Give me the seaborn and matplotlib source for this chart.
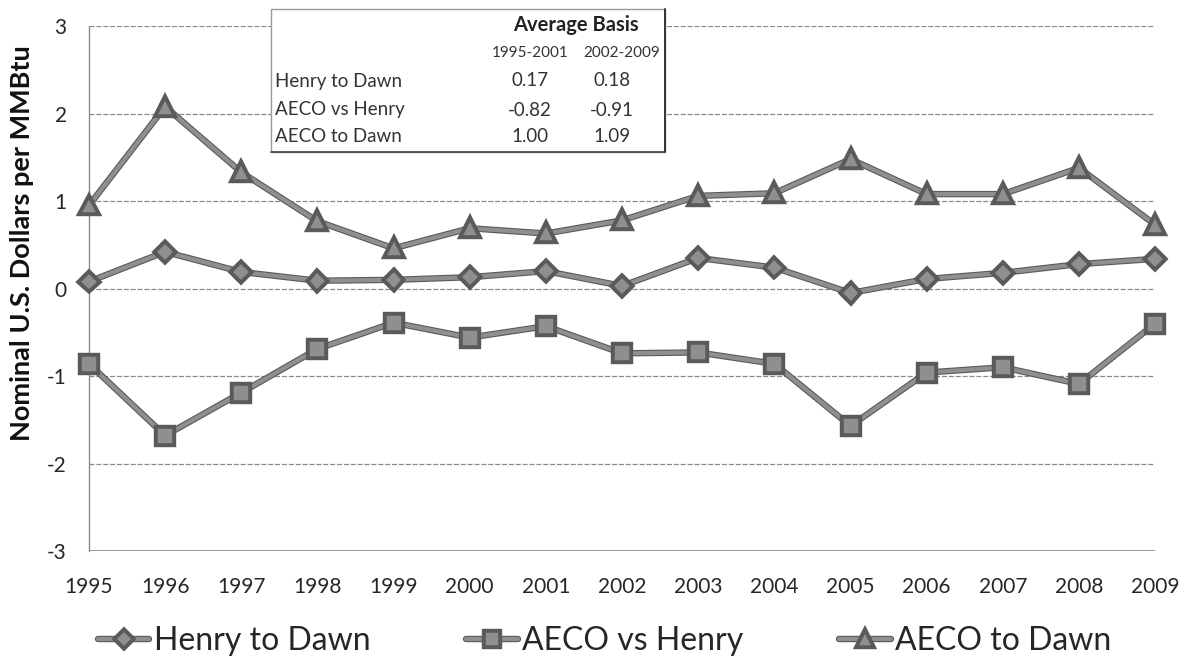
import matplotlib
matplotlib.use("Agg")
import matplotlib.pyplot as plt
import matplotlib.patheffects as pe
from matplotlib.patches import Rectangle
import numpy as np
import pandas as pd
import seaborn as sns

years = [1995, 1996, 1997, 1998, 1999, 2000, 2001, 2002,
         2003, 2004, 2005, 2006, 2007, 2008, 2009]
henry_to_dawn = [0.08, 0.42, 0.19, 0.09, 0.10, 0.13, 0.20, 0.03,
                 0.35, 0.24, -0.05, 0.11, 0.18, 0.28, 0.34]
aeco_vs_henry = [-0.86, -1.68, -1.19, -0.69, -0.39, -0.56, -0.43, -0.74,
                 -0.73, -0.86, -1.57, -0.96, -0.90, -1.09, -0.40]
aeco_to_dawn = [0.95, 2.08, 1.33, 0.77, 0.46, 0.69, 0.63, 0.78,
                1.06, 1.09, 1.48, 1.08, 1.08, 1.38, 0.73]

series_names = ["Henry to Dawn", "AECO vs Henry", "AECO to Dawn"]
table_title = "Average Basis"
table_periods = ["1995-2001", "2002-2009"]
table_first = ["0.17", "-0.82", "1.00"]
table_second = ["0.18", "-0.91", "1.09"]
y_ticks = [-3, -2, -1, 0, 1, 2, 3]

df = pd.DataFrame({
    "Year": years * 3,
    "Basis": henry_to_dawn + aeco_vs_henry + aeco_to_dawn,
    "Series": [series_names[0]] * len(years) + [series_names[1]] * len(years)
              + [series_names[2]] * len(years),
})
df["pos"] = df["Year"] - years[0]

sns.set_theme(style="white")
plt.rcParams["font.family"] = ["Lato", "DejaVu Sans"]

fig = plt.figure(figsize=(11.86, 6.61), dpi=100)
ax = fig.add_axes([0.075, 0.1664, 0.899, 0.794])

line_gray = "#8f8f8f"
edge_gray = "#5a5a5a"
markers = {series_names[0]: "D", series_names[1]: "s", series_names[2]: "^"}
sizes = {series_names[0]: 9, series_names[1]: 11.5, series_names[2]: 11.5}
line_fx = [pe.Stroke(linewidth=4.6, foreground=edge_gray), pe.Normal()]

for name in series_names:
    sub = df[df["Series"] == name]
    sns.lineplot(data=sub, x="pos", y="Basis", ax=ax, color=line_gray,
                 linewidth=3.0, marker=markers[name], markersize=sizes[name],
                 markerfacecolor=line_gray, markeredgecolor=edge_gray,
                 markeredgewidth=1.1, clip_on=False, zorder=4, label=name,
                 legend=False, path_effects=line_fx)

ax.set_xlim(0, len(years) - 1)
ax.set_ylim(-3, 3)
ax.set_yticks(y_ticks)
ax.set_yticklabels([str(v) for v in y_ticks], fontsize=15)
ax.set_xticks(range(len(years)))
ax.set_xticklabels([str(y) for y in years], fontsize=15)
ax.tick_params(axis="x", direction="out", length=5, width=0.8,
               color="#777777", pad=14)
ax.tick_params(axis="y", length=0, pad=16)

for v in y_ticks:
    ax.axhline(v, color="#8a8a8a", linewidth=0.9, linestyle=(0, (4, 1.5)),
               zorder=1)
ax.axhline(-3, color="#808080", linewidth=1.1, zorder=1)
for side in ["top", "right", "bottom"]:
    ax.spines[side].set_visible(False)
ax.spines["left"].set_color("#8a8a8a")
ax.spines["left"].set_linewidth(1.0)

ax.set_xlabel("")
ax.set_ylabel("")


def fx(px):
    return px / 1186


def fy(py):
    return 1 - py / 661


fig.text(fx(22), fy(243), "Nominal U.S. Dollars per MMBtu", fontsize=19.5,
         fontweight="bold", rotation=90, ha="center", va="center",
         color="#111111")

# Summary table of average basis by period
box = Rectangle((271, 661 - 152), 394, 143, transform=None,
                facecolor="white", edgecolor="#9a9a9a", linewidth=1.0,
                zorder=6)
fig.patches.append(box)
fig.add_artist(plt.Line2D([fx(665), fx(665)], [fy(9), fy(152)],
                          transform=fig.transFigure, color="#333333",
                          linewidth=1.4, zorder=7))
fig.add_artist(plt.Line2D([fx(271), fx(665)], [fy(152), fy(152)],
                          transform=fig.transFigure, color="#444444",
                          linewidth=1.2, zorder=7))

fig.text(fx(576), fy(25), table_title, fontsize=14.5, fontweight="bold",
         ha="center", va="center", zorder=8, color="#222222")
fig.text(fx(530), fy(53), table_periods[0], fontsize=11, ha="center",
         va="center", zorder=8, color="#333333")
fig.text(fx(622), fy(53), table_periods[1], fontsize=11, ha="center",
         va="center", zorder=8, color="#333333")
row_y = [81, 110, 137]
for i, name in enumerate(series_names):
    fig.text(fx(275), fy(row_y[i]), name, fontsize=13.5, ha="left",
             va="center", zorder=8, color="#333333")
    fig.text(fx(530), fy(row_y[i]), table_first[i], fontsize=13.5,
             ha="center", va="center", zorder=8, color="#333333")
    fig.text(fx(612), fy(row_y[i]), table_second[i], fontsize=13.5,
             ha="center", va="center", zorder=8, color="#333333")

handles = []
for name in series_names:
    h = plt.Line2D([], [], color=line_gray, linewidth=3.0,
                   marker=markers[name], markersize=sizes[name] * 0.9,
                   markerfacecolor=line_gray, markeredgecolor=edge_gray,
                   markeredgewidth=1.1, path_effects=line_fx)
    handles.append(h)
fig.legend(handles, series_names, loc="center", bbox_to_anchor=(0.51, 0.03),
           ncol=3, frameon=False, fontsize=23, handlelength=1.6,
           handletextpad=0.15, columnspacing=3.0)

fig.savefig("out.png", dpi=100)
